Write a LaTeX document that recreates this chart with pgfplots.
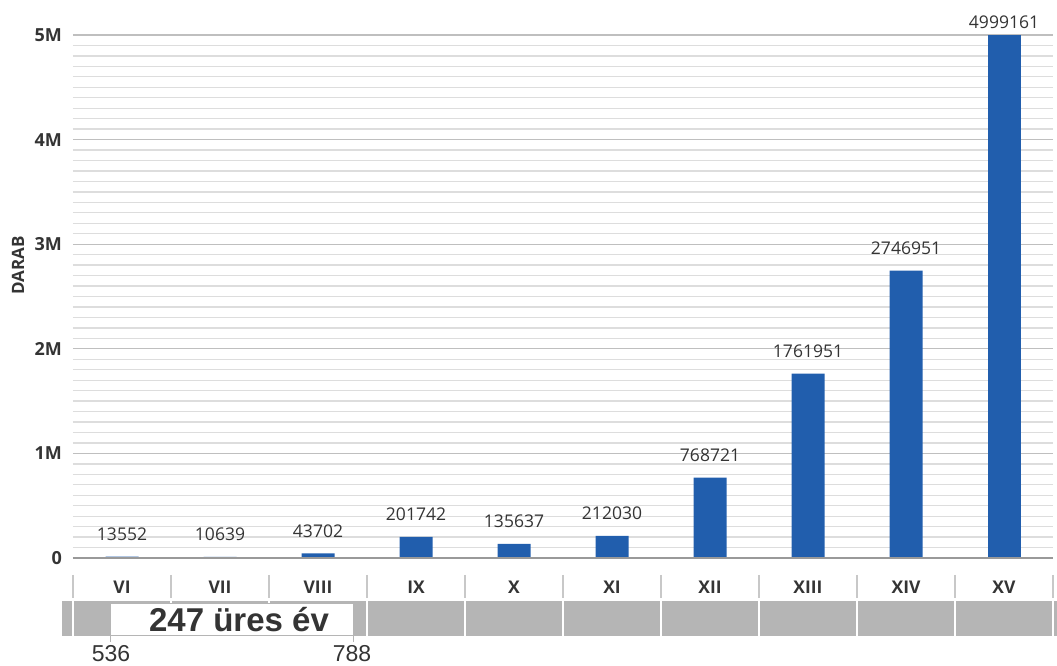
\documentclass[border=0pt]{standalone}
\usepackage{fontspec}
\setmainfont{Open Sans}
\newfontfamily\arialfont{Liberation Sans}
\usepackage{pgfplots}
\pgfplotsset{compat=1.18}
\definecolor{barblue}{RGB}{33,94,173}
\definecolor{txt}{RGB}{52,52,52}
\definecolor{majgrid}{RGB}{191,191,191}
\definecolor{mingrid}{RGB}{221,221,221}
\definecolor{band}{RGB}{181,181,181}
\definecolor{sep}{RGB}{200,200,200}

\begin{document}
\begin{tikzpicture}[x=1pt,y=1pt]
\useasboundingbox (0,0) rectangle (1057,666);
\begin{axis}[
  at={(73pt,108pt)}, anchor=south west,
  scale only axis, width=980pt, height=523pt,
  xmin=-0.5, xmax=9.5, ymin=0, ymax=5000000,
  axis line style={draw=none}, tick style={draw=none},
  ybar, bar width=33pt, bar shift=0pt,
  xtick={0,1,2,3,4,5,6,7,8,9},
  xticklabels={VI,VII,VIII,IX,X,XI,XII,XIII,XIV,XV},
  xticklabel style={font=\fontsize{17.5}{19}\selectfont\bfseries, text=txt, anchor=center, yshift=-25pt},
  ytick={0,1000000,2000000,3000000,4000000,5000000},
  yticklabels={0,1M,2M,3M,4M,5M},
  scaled y ticks=false,
  yticklabel style={font=\fontsize{18}{20}\selectfont\bfseries, text=txt, anchor=east, inner sep=0pt, xshift=-11pt},
  minor y tick num=9,
  ymajorgrids, yminorgrids,
  major grid style={majgrid, line width=1.3pt},
  minor grid style={mingrid, line width=1.3pt},
  ylabel={DARAB},
  every axis y label/.style={at={(axis description cs:-0.0561,0.56)}, rotate=90, anchor=center,
    font=\fontsize{17}{19}\selectfont\bfseries, text=txt},
  clip=false,
  point meta=explicit symbolic,
  nodes near coords,
  every node near coord/.append style={font=\fontsize{17.5}{19}\selectfont, text=txt, anchor=south, inner sep=0pt, yshift=16pt},
]
\addplot[fill=barblue, draw=none] coordinates {
  (0,13552) [13552]
  (1,10639) [10639]
  (2,43702) [43702]
  (3,201742) [201742]
  (4,135637) [135637]
  (5,212030) [212030]
  (6,768721) [768721]
  (7,1761951) [1761951]
  (8,2746951) [2746951]
};
\addplot[fill=barblue, draw=none,
  every node near coord/.append style={yshift=-10pt}] coordinates {
  (9,4999161) [4999161]
};
\draw[majgrid!80!black, line width=1.3pt] (axis cs:-0.5,0) -- (axis cs:9.5,0);
\end{axis}

% category separators
\foreach \k in {0,...,10} {
  \draw[sep, line width=1.5pt] ({73+98*\k},91) -- ({73+98*\k},68);
}
% timeline band
\fill[band] (62,30) rectangle (1057,65);
\foreach \k in {0,...,10} {
  \draw[white, line width=2pt] ({73+98*\k},30) -- ({73+98*\k},65);
}
\filldraw[fill=white, draw=band, line width=0.8pt] (110,31) rectangle (353,63);
\node[font=\arialfont\fontsize{33}{36}\selectfont\bfseries, text=txt] at (239,46) {247 üres év};
\draw[band, line width=1pt] (110,30) -- (110,24);
\draw[band, line width=1pt] (353,30) -- (353,24);
\node[font=\arialfont\fontsize{23}{25}\selectfont, text=txt, anchor=base] at (111,4) {536};
\node[font=\arialfont\fontsize{23}{25}\selectfont, text=txt, anchor=base] at (352,4) {788};
\end{tikzpicture}
\end{document}
